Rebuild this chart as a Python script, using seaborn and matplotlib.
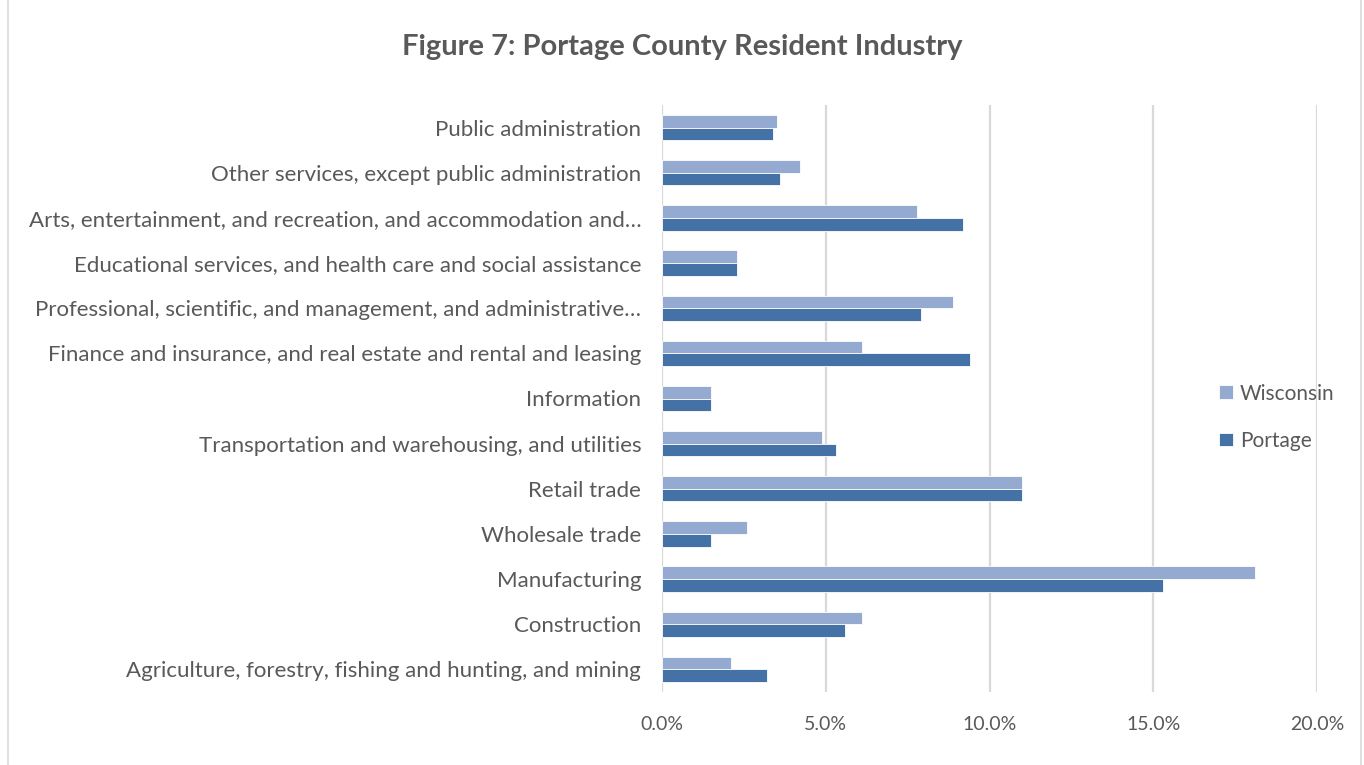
import numpy as np
import pandas as pd
import matplotlib
matplotlib.use("Agg")
import matplotlib.pyplot as plt
import seaborn as sns
from matplotlib.ticker import FuncFormatter
from matplotlib.patches import Rectangle

# Categories, top to bottom as drawn
industries = [
    "Public administration",
    "Other services, except public administration",
    "Arts, entertainment, and recreation, and accommodation and\u2026",
    "Educational services, and health care and social assistance",
    "Professional, scientific, and management, and administrative\u2026",
    "Finance and insurance, and real estate and rental and leasing",
    "Information",
    "Transportation and warehousing, and utilities",
    "Retail trade",
    "Wholesale trade",
    "Manufacturing",
    "Construction",
    "Agriculture, forestry, fishing and hunting, and mining",
]
wisconsin = [3.5, 4.2, 7.8, 2.3, 8.9, 6.1, 1.5, 4.9, 11.0, 2.6, 18.1, 6.1, 2.1]
portage = [3.4, 3.6, 9.2, 2.3, 7.9, 9.4, 1.5, 5.3, 11.0, 1.5, 15.3, 5.6, 3.2]

series = ["Wisconsin", "Portage"]
colors = ["#94AAD1", "#4472A7"]
ticks = [0, 5, 10, 15, 20]

df = pd.DataFrame({
    "Industry": industries * 2,
    "Series": ["Wisconsin"] * len(industries) + ["Portage"] * len(industries),
    "Share": wisconsin + portage,
})

sns.set_theme(style="white")
plt.rcParams["font.family"] = ["Lato", "DejaVu Sans"]
text_col = "#595959"

fig = plt.figure(figsize=(13.64, 7.65), dpi=100)
ax = fig.add_axes([662 / 1364, 1 - 692 / 765, (1317 - 662) / 1364, (692 - 105) / 765])

sns.barplot(data=df, y="Industry", x="Share", hue="Series", order=industries,
            hue_order=series, palette=colors, width=0.56, orient="h",
            saturation=1, edgecolor="white", linewidth=0.6, ax=ax)

ax.set_xlim(0, 20)
ax.set_xticks(ticks)
ax.xaxis.set_major_formatter(FuncFormatter(lambda v, p: f"{v:.1f}%"))
ax.grid(axis="x", color="#D9D9D9", linewidth=1.6)
ax.set_axisbelow(True)
for s in ax.spines.values():
    s.set_visible(False)
ax.tick_params(axis="both", length=0, labelcolor=text_col)
ax.tick_params(axis="x", pad=17, labelsize=14)
ax.tick_params(axis="y", pad=15, labelsize=16)
ax.set_xlabel("")
ax.set_ylabel("")

leg = ax.legend(loc="center left", bbox_to_anchor=(0.822, 0.468), frameon=False,
                fontsize=15, handlelength=0.65, handleheight=0.65,
                handletextpad=0.35, labelspacing=1.3, labelcolor=text_col)

fig.suptitle("Figure 7: Portage County Resident Industry", x=0.5, y=0.956,
             fontsize=21, fontweight="bold", color=text_col)

fig.patches.append(Rectangle((0.006, -0.01), 0.992, 1.02, transform=fig.transFigure,
                             fill=False, edgecolor="#D9D9D9", linewidth=1.2))

fig.savefig("out.png", dpi=100, facecolor="white")
